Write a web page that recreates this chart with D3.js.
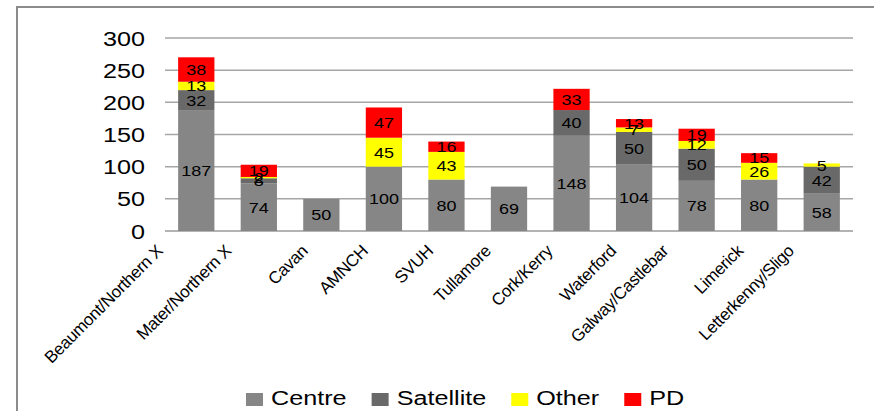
<!DOCTYPE html>
<html>
<head>
<meta charset="utf-8">
<script src="https://cdn.jsdelivr.net/npm/d3@7"></script>
<style>
  body { margin: 0; background: #fff; }
  svg { display: block; font-family: "Liberation Sans", Arial, sans-serif; }
</style>
</head>
<body>
<svg id="chart" width="874" height="411"></svg>
<script>
var categories = ['Beaumont/Northern X', 'Mater/Northern X', 'Cavan', 'AMNCH', 'SVUH', 'Tullamore',
  'Cork/Kerry', 'Waterford', 'Galway/Castlebar', 'Limerick', 'Letterkenny/Sligo'];
var centre    = [187, 74, 50, 100, 80, 69, 148, 104, 78, 80, 58];
var satellite = [32, 8, 0, 0, 0, 0, 40, 50, 50, 0, 42];
var other     = [13, 2, 0, 45, 43, 0, 0, 7, 12, 26, 5];
var pd        = [38, 19, 0, 47, 16, 0, 33, 13, 19, 15, 0];
var seriesNames = ['Centre', 'Satellite', 'Other', 'PD'];
var yTicks = [0, 50, 100, 150, 200, 250, 300];

var colors = { Centre: '#868686', Satellite: '#696969', Other: '#ffff00', PD: '#ff0000' };
var stretch = 1.2;

var svg = d3.select('#chart');

// outer frame (top + left edges visible)
svg.append('path')
  .attr('d', 'M17,411V7H874')
  .attr('fill', 'none')
  .attr('stroke', '#8c8c8c')
  .attr('stroke-width', 2);

var rows = categories.map(function(c, i){
  return { cat: c, Centre: centre[i], Satellite: satellite[i], Other: other[i], PD: pd[i] };
});

var x = d3.scaleBand().domain(categories).range([165, 853]).paddingInner(0.42).paddingOuter(0.21);
var y = d3.scaleLinear().domain([0, 300]).range([231, 38]);

// gridlines
svg.append('g').selectAll('line')
  .data(yTicks)
  .enter()
  .append('line')
    .attr('x1', 165).attr('x2', 853)
    .attr('y1', (d) => y(d)).attr('y2', (d) => y(d))
    .attr('stroke', (d) => d === 0 ? '#9a9a9a' : '#a6a6a6')
    .attr('stroke-width', 1.5);

// y tick labels
svg.append('g').selectAll('text')
  .data(yTicks)
  .enter()
  .append('text')
    .attr('transform', (d) => 'translate(145,' + (y(d) + 7.5) + ') scale(' + stretch + ',1)')
    .attr('text-anchor', 'end')
    .attr('font-size', 21)
    .attr('fill', '#000')
    .text((d) => d);

var stacked = d3.stack().keys(seriesNames)(rows);

var layers = svg.append('g').selectAll('g')
  .data(stacked)
  .enter()
  .append('g')
    .attr('fill', (d) => colors[d.key]);

layers.selectAll('rect')
  .data((d) => d)
  .enter()
  .append('rect')
    .attr('x', (d) => x(d.data.cat))
    .attr('width', x.bandwidth())
    .attr('y', (d) => y(d[1]))
    .attr('height', (d) => y(d[0]) - y(d[1]));

// data labels
var labels = [];
stacked.forEach(function(s){
  s.forEach(function(d){
    var v = d[1] - d[0];
    if (v > 0) labels.push({ cat: d.data.cat, v: v, mid: (d[0] + d[1]) / 2 });
  });
});

svg.append('g').selectAll('text')
  .data(labels)
  .enter()
  .append('text')
    .attr('transform', (d) => 'translate(' + (x(d.cat) + x.bandwidth() / 2) + ',' + (y(d.mid) + 5.5) + ') scale(' + stretch + ',1)')
    .attr('text-anchor', 'middle')
    .attr('font-size', 15)
    .attr('fill', '#000')
    .text((d) => d.v);

// rotated category labels
var catLabels = svg.append('g').selectAll('text')
  .data(categories)
  .enter()
  .append('text')
    .attr('text-anchor', 'end')
    .attr('font-size', 17)
    .attr('letter-spacing', -0.3)
    .attr('fill', '#000')
    .text((d) => d);

catLabels.each(function(d){
  var len = this.getComputedTextLength();
  var cx = x(d) + x.bandwidth() / 2 - 4 - 0.18 * len;
  d3.select(this).attr('transform', 'translate(' + cx + ',252) rotate(-45)');
});

// legend
var legend = svg.append('g');
var lx = 246;
seriesNames.forEach(function(name){
  legend.append('rect')
    .attr('x', lx).attr('y', 393)
    .attr('width', 17).attr('height', 13)
    .attr('fill', colors[name]);
  var t = legend.append('text')
    .attr('transform', 'translate(' + (lx + 25) + ',405) scale(' + stretch + ',1)')
    .attr('font-size', 21)
    .attr('fill', '#000')
    .text(name);
  lx += 25 + t.node().getComputedTextLength() * stretch + 25;
});
</script>
</body>
</html>
